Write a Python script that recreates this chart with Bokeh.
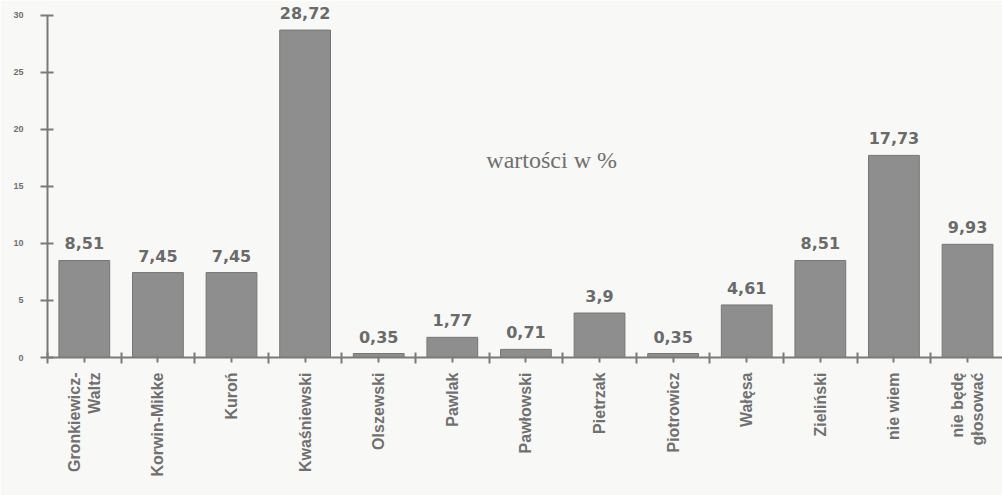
from math import pi
from bokeh.plotting import figure
from bokeh.models import ColumnDataSource, FixedTicker, LabelSet, Label
from bokeh.core.properties import value
from bokeh.embed import file_html
from bokeh.resources import INLINE

categories = ["Gronkiewicz-\nWaltz", "Korwin-Mikke", "Kuroń", "Kwaśniewski", "Olszewski",
              "Pawlak", "Pawłowski", "Pietrzak", "Piotrowicz", "Wałęsa", "Zieliński",
              "nie wiem", "nie będę\ngłosować"]
values = [8.51, 7.45, 7.45, 28.72, 0.35, 1.77, 0.71, 3.9, 0.35, 4.61, 8.51, 17.73, 9.93]
value_labels = [("%g" % v).replace(".", ",") for v in values]
y_ticks = [0, 5, 10, 15, 20, 25, 30]
annotation = "wartości w %"

n = len(categories)
centers = [i + 0.5 for i in range(n)]
src = ColumnDataSource(dict(x=centers, top=values, lab=value_labels))

BG = "#f8f8f6"
p = figure(width=1002, height=495, output_backend="svg", toolbar_location=None,
           x_range=(0, 12.975), y_range=(0, 31.14),
           min_border_left=47, min_border_right=0, min_border_top=2, min_border_bottom=138,
           background_fill_color=BG, border_fill_color=BG, outline_line_color=None)
p.grid.visible = False

p.vbar(x="x", top="top", bottom=0, width=0.69, source=src,
       fill_color="#8e8e8e", line_color="#767676", line_width=1)

labels = LabelSet(x="x", y="top", text="lab", source=src, y_offset=11,
                  text_align="center", text_baseline="bottom",
                  text_font=value("DejaVu Sans"), text_font_style="bold",
                  text_font_size="16px", text_color="#6a6a6a")
p.add_layout(labels)

p.add_layout(Label(x=6.85, y=17.3, text=annotation, text_align="center",
                   text_baseline="middle", text_font="Liberation Serif",
                   text_font_size="24px", text_color="#707070"))

# x axis
xa = p.xaxis[0]
xa.ticker = FixedTicker(ticks=centers, minor_ticks=list(range(n + 1)))
xa.major_label_overrides = {c: cat for c, cat in zip(centers, categories)}
xa.major_label_orientation = pi / 2
xa.major_label_text_font = "Liberation Sans"
xa.major_label_text_font_style = "bold"
xa.major_label_text_font_size = "16px"
xa.major_label_text_color = "#707070"
xa.major_label_standoff = 9
xa.axis_line_color = "#7a7a7a"
xa.axis_line_width = 2
xa.major_tick_in = 0
xa.major_tick_out = 5
xa.major_tick_line_color = "#7a7a7a"
xa.major_tick_line_width = 2
xa.minor_tick_in = 5
xa.minor_tick_out = 6
xa.minor_tick_line_color = "#7a7a7a"
xa.minor_tick_line_width = 2

# y axis
ya = p.yaxis[0]
ya.ticker = FixedTicker(ticks=y_ticks)
ya.bounds = (0, 30)
ya.major_label_text_font = "Liberation Sans"
ya.major_label_text_font_style = "bold"
ya.major_label_text_font_size = "9px"
ya.major_label_text_color = "#707070"
ya.major_label_standoff = 17
ya.axis_line_color = "#7a7a7a"
ya.axis_line_width = 2
ya.major_tick_in = 6
ya.major_tick_out = 7
ya.major_tick_line_color = "#7a7a7a"
ya.major_tick_line_width = 2
ya.minor_tick_line_color = None

open("out.html", "w").write(file_html(p, INLINE))
